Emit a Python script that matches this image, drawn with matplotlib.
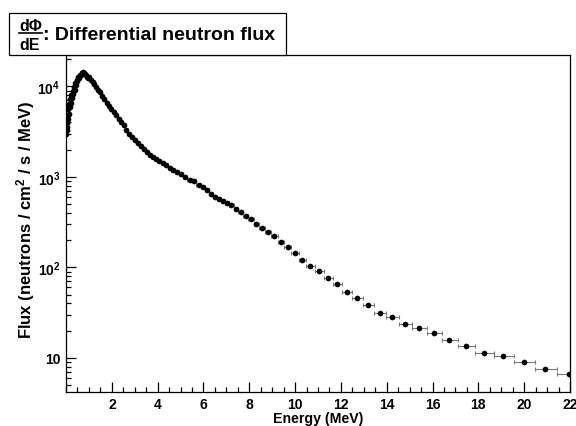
import matplotlib
matplotlib.use("Agg")
import matplotlib.pyplot as plt
import numpy as np
from matplotlib.ticker import FixedLocator, FixedFormatter, LogLocator, NullFormatter, MultipleLocator
from matplotlib.patches import Rectangle
from matplotlib.lines import Line2D

plt.rcParams['font.family'] = ['Liberation Sans', 'DejaVu Sans']
plt.rcParams['font.weight'] = 'bold'
plt.rcParams['mathtext.fontset'] = 'custom'
plt.rcParams['mathtext.rm'] = 'Liberation Sans:bold'
plt.rcParams['mathtext.bf'] = 'Liberation Sans:bold'
plt.rcParams['mathtext.it'] = 'Liberation Sans:bold'

# bin centres (MeV) and flux (neutrons / cm2 / s / MeV)
energy = [0.02, 0.03, 0.04, 0.05, 0.06, 0.07, 0.08, 0.10, 0.12, 0.14,
          0.16, 0.18, 0.20, 0.23, 0.26, 0.29, 0.32, 0.35, 0.38, 0.41,
          0.44, 0.47, 0.50, 0.53, 0.56, 0.60, 0.64, 0.68, 0.72, 0.76,
          0.80, 0.84, 0.88, 0.92, 0.96,
          1.00, 1.08, 1.16, 1.24, 1.32, 1.41, 1.50, 1.59, 1.68, 1.78,
          1.88, 1.98, 2.08, 2.19, 2.30, 2.41, 2.52, 2.64, 2.76, 2.88,
          3.00, 3.13, 3.26, 3.39, 3.52, 3.66, 3.80, 3.94, 4.08, 4.23,
          4.38, 4.53, 4.68, 4.84, 5.00,
          5.18, 5.41, 5.60, 5.79, 5.98, 6.16, 6.33, 6.51, 6.68, 6.86,
          7.03, 7.22, 7.42, 7.63, 7.85, 8.07, 8.30, 8.56, 8.82, 9.08,
          9.39, 9.68, 9.99, 10.32, 10.67, 11.06, 11.44, 11.85, 12.27, 12.72,
          13.20, 13.71, 14.24, 14.80, 15.41, 16.07, 16.72, 17.47, 18.25, 19.08,
          20.00, 20.92, 21.95]

flux = [3000, 3600, 3300, 4200, 3900, 4800, 4400, 5600, 5000, 6400,
        5900, 7200, 6600, 8000, 7400, 8900, 8300, 9800, 9200, 10800,
        10300, 11800, 11400, 12700, 12400, 13500, 13300, 14200, 14100, 14300,
        14000, 13600, 13200, 12800, 12500,
        12800, 11900, 11200, 10500, 9900, 9200, 8600, 7900, 7200, 6600,
        6100, 5600, 5200, 4800, 4400, 4050, 3700, 3300, 3000, 2750,
        2560, 2380, 2220, 2040, 1880, 1760, 1670, 1580, 1490, 1410,
        1340, 1270, 1200, 1130, 1070,
        993, 934, 896, 822, 769, 713, 649, 606, 575, 543,
        516, 487, 440, 407, 374, 344, 303, 273, 247, 223,
        190, 166, 144, 121, 104, 90.8, 76.0, 65.8, 53.7, 46.4,
        38.5, 31.3, 28.4, 23.8, 21.4, 18.9, 15.8, 13.6, 11.4, 10.5,
        9.03, 7.55, 6.65]

ytick_vals = [10, 100, 1000, 10000]
ytick_text = ['10', r'$10^{2}$', r'$10^{3}$', r'$10^{4}$']
xtick_vals = [2, 4, 6, 8, 10, 12, 14, 16, 18, 20, 22]

W, H = 576, 427


def px(x, y):
    # pixel position (from top-left) -> figure fraction
    return x / W, 1 - y / H


# bin edges half way between neighbouring centres
e = np.array(energy)
mid = (e[1:] + e[:-1]) / 2
lo_edge = np.concatenate([[max(e[0] - (mid[0] - e[0]), 0)], mid])
hi_edge = np.concatenate([mid, [e[-1] + (e[-1] - mid[-1])]])
xerr = [e - lo_edge, hi_edge - e]

fig = plt.figure(figsize=(W / 100, H / 100), dpi=100)
ax = fig.add_axes([66 / W, 1 - 393 / H, (570 - 66) / W, (393 - 55.7) / H])

ax.errorbar(energy, flux, xerr=xerr, fmt='none', ecolor='#7a7a7a',
            elinewidth=0.8, capsize=1.5, capthick=0.8, zorder=2)
ax.plot(energy, flux, 'o', color='black', ms=4.1, mew=0, zorder=3)

ax.set_yscale('log')
ax.set_xlim(0, 22)
ax.set_ylim(4.2, 22400)

ax.xaxis.set_major_locator(FixedLocator(xtick_vals))
ax.xaxis.set_minor_locator(MultipleLocator(0.5))
ax.yaxis.set_major_locator(FixedLocator(ytick_vals))
ax.yaxis.set_major_formatter(FixedFormatter(ytick_text))
ax.yaxis.set_minor_locator(LogLocator(base=10, subs=np.arange(2, 10)))
ax.yaxis.set_minor_formatter(NullFormatter())

ax.tick_params(which='both', direction='in', top=False, right=False, width=0.9)
ax.tick_params(which='major', length=7, labelsize=10)
ax.tick_params(axis='x', which='major', pad=3.5)
ax.tick_params(axis='y', which='major', pad=4)
ax.tick_params(which='minor', length=3.5)
for s in ax.spines.values():
    s.set_linewidth(0.9)

fig.text(*px(318, 419.5), 'Energy (MeV)', ha='center', va='center',
         fontsize=10.2, fontweight='bold')
fig.text(*px(26, 220), r'Flux (neutrons / cm$^{2}$ / s / MeV)', ha='center',
         va='center', rotation=90, fontsize=12, fontweight='bold')

# title box with the dPhi/dE fraction
fig.patches.append(Rectangle(px(9, 55.7), 277 / W, 41.4 / H, transform=fig.transFigure,
                             facecolor='white', edgecolor='black', lw=0.9, zorder=5))
fig.text(*px(19, 26.5), 'd\u03a6', ha='left', va='center', fontsize=11.5,
         fontweight='bold', zorder=6)
fig.text(*px(19, 45), 'dE', ha='left', va='center', fontsize=11.5,
         fontweight='bold', zorder=6)
x0, y0 = px(19, 33.5)
x1, _ = px(42, 33.5)
fig.lines.append(Line2D([x0, x1], [y0, y0], transform=fig.transFigure,
                        color='black', lw=1.2, zorder=6))
fig.text(*px(43, 35), ': Differential neutron flux', ha='left', va='center',
         fontsize=14, fontweight='bold', zorder=6)

fig.savefig('out.png', dpi=100)
